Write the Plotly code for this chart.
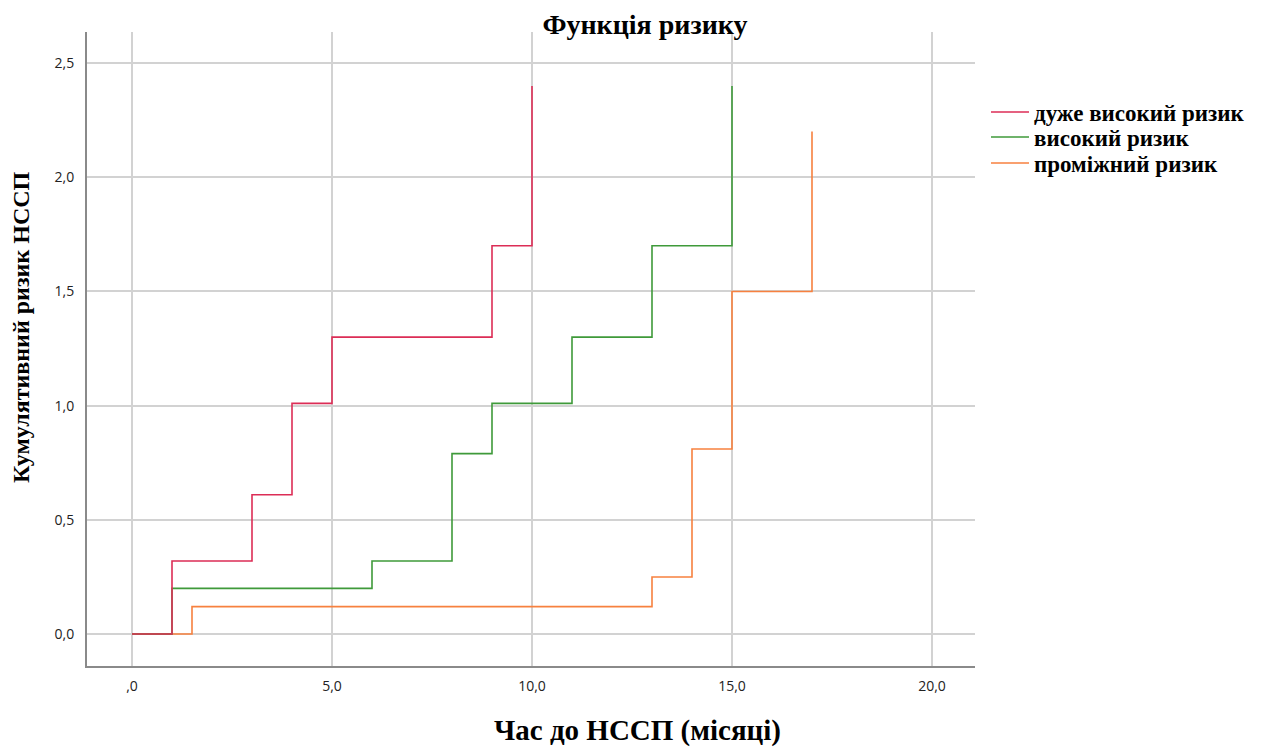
import plotly.graph_objects as go

# Data
red_x = [0, 1, 3, 4, 5, 9, 10]
red_y = [0.0, 0.32, 0.61, 1.01, 1.30, 1.70, 2.40]
green_x = [0, 1, 6, 8, 9, 11, 13, 15]
green_y = [0.0, 0.20, 0.32, 0.79, 1.01, 1.30, 1.70, 2.40]
orange_x = [0, 1.5, 13, 14, 15, 17]
orange_y = [0.0, 0.12, 0.25, 0.81, 1.50, 2.20]
names = ["дуже високий ризик", "високий ризик", "проміжний ризик"]
colors = ["#dc2d56", "#3f9a3a", "#f7813f"]

x_ticks = [0, 5, 10, 15, 20]
x_ticktext = [",0", "5,0", "10,0", "15,0", "20,0"]
y_ticks = [0, 0.5, 1.0, 1.5, 2.0, 2.5]
y_ticktext = ["0,0", "0,5", "1,0", "1,5", "2,0", "2,5"]

# page has an 8px body margin; figure coords = page coords - 8
L, R, T, B = 79, 967, 24, 658
W, H = 1255, 741
pw, ph = R - L, B - T

fig = go.Figure()
series = [(orange_x, orange_y, names[2], colors[2], "legend3"),
          (green_x, green_y, names[1], colors[1], "legend2"),
          (red_x, red_y, names[0], colors[0], "legend")]
for xs, ys, nm, c, lg in series:
    fig.add_trace(go.Scatter(x=xs, y=ys, mode="lines", name="<b>" + nm + "</b>",
                             legend=lg,
                             line=dict(color=c, width=1.6, shape="hv")))

leg_font = dict(family="Liberation Serif", size=23, color="black")
def leg(yfig):
    return dict(x=(978 - L) / pw, y=(B - yfig) / ph, xanchor="left", yanchor="middle",
                font=leg_font, itemwidth=38, bgcolor="rgba(0,0,0,0)")

fig.update_layout(
    width=W, height=H,
    paper_bgcolor="white", plot_bgcolor="white",
    margin=dict(l=L, r=W - R, t=T, b=H - B),
    title=dict(text="<b>Функція ризику</b>", x=637 / W, xanchor="center",
               y=1 - 16 / H, yanchor="middle",
               font=dict(family="Liberation Serif", size=28, color="black")),
    showlegend=True,
    legend=leg(104), legend2=leg(129), legend3=leg(155),
    xaxis=dict(range=[-1.125, 21.075], tickvals=x_ticks, ticktext=x_ticktext,
               showgrid=True, gridcolor="#d2d2d2", gridwidth=2,
               showline=True, linecolor="#8a8a8a", linewidth=2,
               zeroline=False, ticks="", ticklabelstandoff=6,
               tickfont=dict(family="Open Sans", size=14, color="#222")),
    yaxis=dict(range=[-0.14, 2.636], tickvals=y_ticks, ticktext=y_ticktext,
               showgrid=True, gridcolor="#d2d2d2", gridwidth=2,
               showline=True, linecolor="#8a8a8a", linewidth=2,
               zeroline=False, ticks="", ticklabelstandoff=8,
               tickfont=dict(family="Open Sans", size=14, color="#222")),
    annotations=[
        dict(text="<b>Час до НССП (місяці)</b>", xref="paper", yref="paper",
             x=(629 - L) / pw, y=-(722 - B) / ph, xanchor="center", yanchor="middle",
             showarrow=False, font=dict(family="Liberation Serif", size=29, color="black")),
        dict(text="<b>Кумулятивний ризик НССП</b>", xref="paper", yref="paper",
             x=-(L - 13) / pw, y=(B - 319) / ph, xanchor="center", yanchor="middle",
             textangle=-90, showarrow=False,
             font=dict(family="Liberation Serif", size=24, color="black")),
    ],
)

fig.write_html("out.html")
